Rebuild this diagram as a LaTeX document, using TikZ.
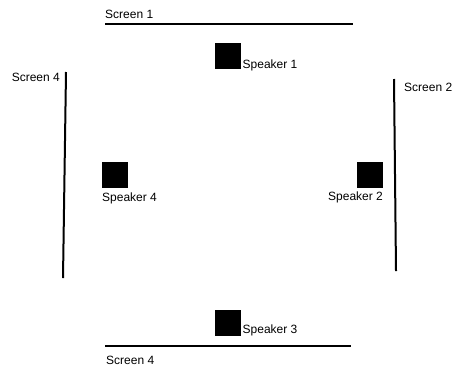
\documentclass[tikz,border=0pt]{standalone}
\usepackage{fontspec}
\setmainfont{Liberation Sans}
\begin{document}
\begin{tikzpicture}[x=1pt,y=-1pt,
  spk/.style={fill=black,draw=none,minimum size=26pt,inner sep=0pt,rectangle},
  lbl/.style={anchor=base west,inner sep=0pt,font=\fontsize{12}{14}\selectfont},
  scr/.style={line width=2pt}]
\useasboundingbox (0,0) rectangle (454,370);
% screens
\draw[scr] (105,24) -- (353,24);
\draw[scr] (105,346) -- (351,346);
\draw[scr] (66,72) -- (63,278);
\draw[scr] (394,79) -- (396,271);
\node[lbl] (s1) at (105,18.3) {Screen 1};
\node[lbl] (s2) at (404,91) {Screen 2};
\node[lbl,anchor=base east] (s4a) at (60,81.7) {Screen 4};
\node[lbl] (s4b) at (106,364.3) {Screen 4};
% speakers
\node[spk] (p1) at (228,56.3) {};
\node[spk] (p2) at (369.5,175.3) {};
\node[spk] (p3) at (227.7,322.5) {};
\node[spk] (p4) at (114.5,175.2) {};
\node[lbl] (l1) at (242.5,68.3) {Speaker 1};
\node[lbl] (l2) at (328,200) {Speaker 2};
\node[lbl] (l3) at (242.5,333.7) {Speaker 3};
\node[lbl] (l4) at (102,201) {Speaker 4};
\end{tikzpicture}
\end{document}
